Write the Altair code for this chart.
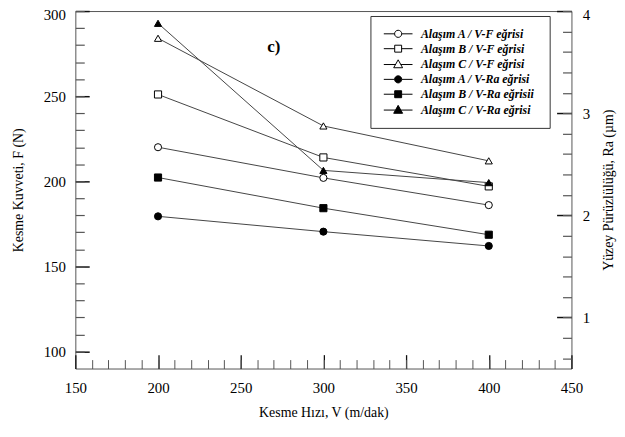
import altair as alt
import pandas as pd

# ---- data ----
speeds = [200, 300, 400]
alloys = ["A", "B", "C"]
force_A = [220, 202, 186]
force_B = [251, 214, 197]
force_C = [284, 232.5, 212]
ra_A = [1.99, 1.84, 1.70]
ra_B = [2.37, 2.07, 1.81]
ra_C = [3.88, 2.44, 2.32]

legend_labels = [
    "Alaşım A / V-F eğrisi",
    "Alaşım B / V-F eğrisi",
    "Alaşım C / V-F eğrisi",
    "Alaşım A /  V-Ra eğrisi",
    "Alaşım B /  V-Ra eğrisii",
    "Alaşım C /  V-Ra eğrisi",
]

x_major = [150, 200, 250, 300, 350, 400, 450]
x_minor = list(range(160, 450, 10))
f_major = [100, 150, 200, 250, 300]
f_minor = list(range(100, 301, 10))
ra_major = [1, 2, 3, 4]
ra_minor = [round(0.6 + 0.2 * i, 1) for i in range(18)]

note_x = [270]
note_y = [279]
note_text = ["c)"]

# ---- tables ----
force_df = pd.DataFrame({
    "V": speeds * 3,
    "value": force_A + force_B + force_C,
    "alloy": ["A"] * 3 + ["B"] * 3 + ["C"] * 3,
})
ra_df = pd.DataFrame({
    "V": speeds * 3,
    "value": ra_A + ra_B + ra_C,
    "alloy": ["A"] * 3 + ["B"] * 3 + ["C"] * 3,
})
note_df = pd.DataFrame({"V": note_x, "value": note_y, "txt": note_text})
legend_df = pd.DataFrame({"entry": legend_labels})

SERIF = "Liberation Serif"
LINE_COLOR = "#444"

x_scale = alt.Scale(domain=[150, 450], nice=False, zero=False)
f_scale = alt.Scale(domain=[90, 300], nice=False, zero=False)
ra_scale = alt.Scale(domain=[0.5, 4], nice=False, zero=False)

shape_scale = alt.Scale(domain=alloys, range=["circle", "square", "triangle-up"])
size_scale = alt.Scale(domain=alloys, range=[52, 52, 85])

common_txt = dict(labelFont=SERIF, titleFont=SERIF, labelColor="black",
                  titleColor="black", titleFontWeight="normal")

x_major_axis = alt.Axis(
    orient="bottom", values=x_major, tickSize={"expr": "-14"}, tickColor="#111",
    tickWidth=1.3, domain=False, grid=False, labelFontSize=15, labelPadding=26,
    labelFlush=False, format="d", title="Kesme Hızı, V (m/dak)", titleFontSize=14,
    titlePadding=10, **common_txt,
)
x_minor_axis = alt.Axis(
    orient="bottom", values=x_minor, tickSize={"expr": "-9"}, tickColor="#555",
    tickWidth=1, domain=False, grid=False, labels=False, title=None,
)
f_major_axis = alt.Axis(
    orient="left", values=f_major, tickSize={"expr": "-14"}, tickColor="#111",
    tickWidth=1.5, domain=False, grid=False, labelFontSize=15, labelPadding=24,
    labelFlush=True, labelFlushOffset=3, format="d",
    title="Kesme Kuvveti, F (N)", titleFontSize=14, titlePadding=18, **common_txt,
)
f_minor_axis = alt.Axis(
    orient="left", values=f_minor, tickSize={"expr": "-9"}, tickColor="#555",
    tickWidth=1.2, domain=False, grid=False, labels=False, title=None,
)
ra_major_axis = alt.Axis(
    orient="right", values=ra_major, tickSize={"expr": "-15"}, tickColor="#111",
    tickWidth=1.5, domain=False, grid=False, labelFontSize=15, labelPadding=26,
    labelFlush=True, labelFlushOffset=3, format="d",
    title="Yüzey Pürüzlülüğü, Ra (µm)", titleFontSize=14, titlePadding=12,
    titleAngle=270, titleBaseline="top", **common_txt,
)
ra_minor_axis = alt.Axis(
    orient="right", values=ra_minor, tickSize={"expr": "-9"}, tickColor="#555",
    tickWidth=1.2, domain=False, grid=False, labels=False, title=None,
)

# ---- force (left axis) group ----
f_base = alt.Chart(force_df)
f_line = f_base.mark_line(color=LINE_COLOR, strokeWidth=1).encode(
    x=alt.X("V:Q", scale=x_scale, axis=x_major_axis),
    y=alt.Y("value:Q", scale=f_scale, axis=f_major_axis),
    detail="alloy:N",
)
f_pts = f_base.mark_point(
    filled=True, fill="white", stroke="black", strokeWidth=1, opacity=1
).encode(
    x=alt.X("V:Q", scale=x_scale, axis=x_minor_axis),
    y=alt.Y("value:Q", scale=f_scale, axis=f_minor_axis),
    shape=alt.Shape("alloy:N", scale=shape_scale, legend=None),
    size=alt.Size("alloy:N", scale=size_scale, legend=None),
)
f_note = alt.Chart(note_df).mark_text(
    font=SERIF, fontSize=17, fontWeight="bold", color="black",
    align="center", baseline="middle",
).encode(
    x=alt.X("V:Q", scale=x_scale, axis=None),
    y=alt.Y("value:Q", scale=f_scale, axis=None),
    text="txt:N",
)
f_group = alt.layer(f_line, f_pts, f_note).resolve_axis(x="independent", y="independent")

# ---- roughness (right axis) group ----
r_base = alt.Chart(ra_df)
r_line = r_base.mark_line(color=LINE_COLOR, strokeWidth=1).encode(
    x=alt.X("V:Q", scale=x_scale, axis=None),
    y=alt.Y("value:Q", scale=ra_scale, axis=ra_major_axis),
    detail="alloy:N",
)
r_pts = r_base.mark_point(
    filled=True, fill="black", stroke="black", strokeWidth=1, opacity=1
).encode(
    x=alt.X("V:Q", scale=x_scale, axis=None),
    y=alt.Y("value:Q", scale=ra_scale, axis=ra_minor_axis),
    shape=alt.Shape("alloy:N", scale=shape_scale, legend=None),
    size=alt.Size("alloy:N", scale=size_scale, legend=None),
)
r_group = alt.layer(r_line, r_pts).resolve_axis(y="independent")

# ---- legend (line + marker symbols) ----
legend_paths = [
    "M-2.9,0L-0.72,0M0.72,0L2.9,0M-0.72,0A0.72,0.72 0 1,0 0.72,0A0.72,0.72 0 1,0 -0.72,0Z",
    "M-2.9,0L-0.7,0M0.7,0L2.9,0M-0.7,-0.7L0.7,-0.7L0.7,0.7L-0.7,0.7Z",
    "M-2.9,0L-0.53,0M0.53,0L2.9,0M0,-0.95L0.9,0.65L-0.9,0.65Z",
]
legend_paths = legend_paths + legend_paths
legend_fills = ["white", "white", "white", "black", "black", "black"]
legend_strokes = ["black"] * 6

leg = alt.Legend(
    orient="none", legendX=298, legendY=5, title=None,
    strokeColor="#333", fillColor="white", padding=12, rowPadding=3,
    symbolSize=100, symbolStrokeColor="black", symbolStrokeWidth=1,
    symbolOffset=10, labelOffset=17, labelFont=SERIF, labelFontSize=12,
    labelFontStyle="italic", labelFontWeight="bold", labelColor="black",
    labelLimit=400, cornerRadius=0,
)
legend_layer = alt.Chart(legend_df).transform_filter("false").mark_point(
    filled=True, opacity=1, strokeWidth=1
).encode(
    shape=alt.Shape("entry:N", scale=alt.Scale(domain=legend_labels, range=legend_paths), legend=leg),
    fill=alt.Fill("entry:N", scale=alt.Scale(domain=legend_labels, range=legend_fills), legend=leg),
    stroke=alt.Stroke("entry:N", scale=alt.Scale(domain=legend_labels, range=legend_strokes), legend=leg),
)

chart = alt.layer(f_group, r_group, legend_layer).resolve_scale(
    y="independent", shape="independent", fill="independent", size="independent",
    stroke="independent",
).resolve_axis(x="independent", y="independent").properties(
    width=501, height=361,
    autosize=alt.AutoSizeParams(type="none"),
    padding={"left": 68, "top": 1, "right": 46, "bottom": 59},
).configure(
    background="white"
).configure_view(
    stroke="#555", strokeWidth=1
).configure_axis(
    labelFont=SERIF, titleFont=SERIF, labelColor="black", titleColor="black",
    titleFontWeight="normal",
)

chart.save("out.html", embed_options={"renderer": "svg", "actions": False})
